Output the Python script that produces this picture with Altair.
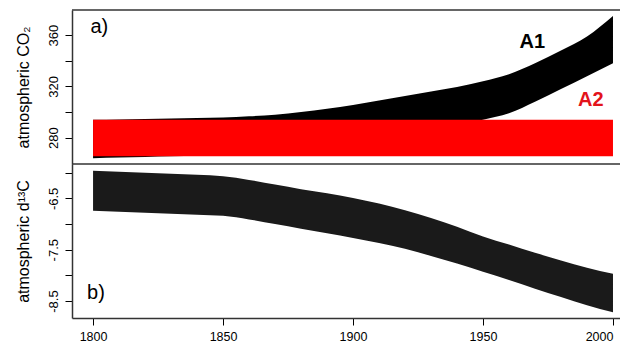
import altair as alt
import pandas as pd

# ---- data (envelopes of the seasonal cycles) ----
years = [1800, 1810, 1820, 1830, 1840, 1850, 1860, 1870, 1880, 1890, 1900,
         1910, 1920, 1930, 1940, 1950, 1960, 1970, 1980, 1990, 2000]
a1_low = [264, 264.5, 265, 265.5, 266, 266.5, 267.5, 269, 271, 273, 276,
          279, 283, 286, 290, 294, 299, 308, 318, 328, 338]
a1_high = [294, 294.3, 294.6, 295, 295.3, 295.8, 296.7, 298, 300, 302.5, 305.5,
           309, 312.5, 316, 319.5, 324, 329.5, 338, 348, 359, 375]
a2_years = [1800, 2000]
a2_low = [265.5, 265.5]
a2_high = [294, 294]
d13c_high = [-5.96, -5.98, -6.00, -6.02, -6.04, -6.07, -6.14, -6.23, -6.32, -6.40, -6.49,
             -6.60, -6.73, -6.88, -7.05, -7.24, -7.40, -7.56, -7.71, -7.85, -7.97]
d13c_low = [-6.74, -6.76, -6.78, -6.80, -6.82, -6.84, -6.91, -7.00, -7.09, -7.18, -7.27,
            -7.37, -7.48, -7.62, -7.77, -7.93, -8.09, -8.26, -8.42, -8.58, -8.72]

co2_ticks = [280, 300, 320, 340, 360]
d13c_ticks = [-8.5, -8.0, -7.5, -7.0, -6.5, -6.0]
year_ticks = [1800, 1850, 1900, 1950, 2000]

top_labels = pd.DataFrame({"year": [1799.0], "value": [366.3], "label": ["a)"]})
series_labels = pd.DataFrame({"year": [1969.0, 1991.5], "value": [355.0, 309.1],
                              "label": ["A1", "A2"], "color": ["black", "#e3131b"]})
bottom_labels = pd.DataFrame({"year": [1797.7], "value": [-8.343], "label": ["b)"]})

df_a1 = pd.DataFrame({"year": years, "low": a1_low, "high": a1_high})
df_a2 = pd.DataFrame({"year": a2_years, "low": a2_low, "high": a2_high})
df_d = pd.DataFrame({"year": years, "low": d13c_low, "high": d13c_high})
one = pd.DataFrame({"k": [0]})

# ---- styling / layout ----
W = 548          # plot width
HP = 154         # height of each panel
H = 2 * HP
FONT = "Liberation Sans"
FRAME = "#333333"

x_scale = alt.Scale(domain=[1791.9, 2002.7], nice=False, zero=False)
y1_scale = alt.Scale(domain=[259.5, 379.6], nice=False, zero=False, range=[HP, 0])
y2_scale = alt.Scale(domain=[-8.83, -5.83], nice=False, zero=False, range=[H, HP])

common_y = dict(
    orient="left",
    labelAngle=270, labelAlign="center", labelBaseline="alphabetic",
    labelPadding=8, tickSize=7, tickColor="black", tickWidth=1,
    domainColor=FRAME, domainWidth=1.5, labelFontSize=13, labelFont=FONT,
    labelColor="black", titleFont=FONT, titleFontSize=16, titleFontWeight="normal",
    titleColor="black", titleAngle=270, titleBaseline="alphabetic", titleAlign="center",
    titleX=-43.5, grid=False,
)

y1_axis = alt.Axis(values=co2_ticks,
                   labelExpr="datum.value % 40 == 0 ? datum.label : ''",
                   title="atmospheric CO\u2082", titleY=HP / 2, **common_y)
y2_axis = alt.Axis(values=d13c_ticks,
                   labelExpr="abs(datum.value * 2) % 2 == 1 ? '-' + format(abs(datum.value), '.1f') : ''",
                   title="atmospheric d\u00b9\u00b3C", titleY=HP + HP / 2, **common_y)
x_axis = alt.Axis(values=year_ticks, format="d", tickSize=7, tickColor="black",
                  domainColor=FRAME, domainWidth=1.5, labelFontSize=12.5, labelFont=FONT,
                  labelColor="black", labelPadding=5, labelFlush=10, title=None,
                  grid=False)

X = alt.X("year:Q", scale=x_scale, axis=x_axis)

# ---- panel a ----
a1_area = alt.Chart(df_a1).mark_area(color="black", interpolate="monotone").encode(
    x=X, y=alt.Y("low:Q", scale=y1_scale, axis=y1_axis), y2="high:Q")
a2_area = alt.Chart(df_a2).mark_area(color="#ff0000").encode(
    x=X, y=alt.Y("low:Q", scale=y1_scale, axis=None), y2="high:Q")
a_text = alt.Chart(top_labels).mark_text(align="left", baseline="middle", font=FONT,
                                         fontSize=20, color="black").encode(
    x=X, y=alt.Y("value:Q", scale=y1_scale, axis=None), text="label:N")
s_text = alt.Chart(series_labels).mark_text(align="center", baseline="middle", font=FONT,
                                            fontSize=20, fontWeight="bold").encode(
    x=X, y=alt.Y("value:Q", scale=y1_scale, axis=None), text="label:N",
    color=alt.Color("color:N", scale=None))

# ---- panel b ----
d_area = alt.Chart(df_d).mark_area(color="#1a1a1a", interpolate="monotone").encode(
    x=X, y=alt.Y("low:Q", scale=y2_scale, axis=y2_axis), y2="high:Q")
b_text = alt.Chart(bottom_labels).mark_text(align="left", baseline="middle", font=FONT,
                                            fontSize=20, color="black").encode(
    x=X, y=alt.Y("value:Q", scale=y2_scale, axis=None), text="label:N")

# ---- frame lines (top edge and panel separator) ----
top_rule = alt.Chart(one).mark_rule(color=FRAME, strokeWidth=1.5).encode(
    y=alt.value(0), x=alt.value(0), x2=alt.value(W))
mid_rule = alt.Chart(one).mark_rule(color=FRAME, strokeWidth=1.5).encode(
    y=alt.value(HP), x=alt.value(0), x2=alt.value(W))

chart = (
    alt.layer(a1_area, a2_area, a_text, s_text, d_area, b_text, top_rule, mid_rule)
    .resolve_scale(y="independent")
    .properties(
        width=W, height=H,
        autosize=alt.AutoSizeParams(type="none"),
        padding={"left": 64, "top": 2, "right": 0, "bottom": 26},
        background="white",
    )
    .configure_view(stroke=None)
)

chart.save("out.html", embed_options={"renderer": "svg", "actions": False})
